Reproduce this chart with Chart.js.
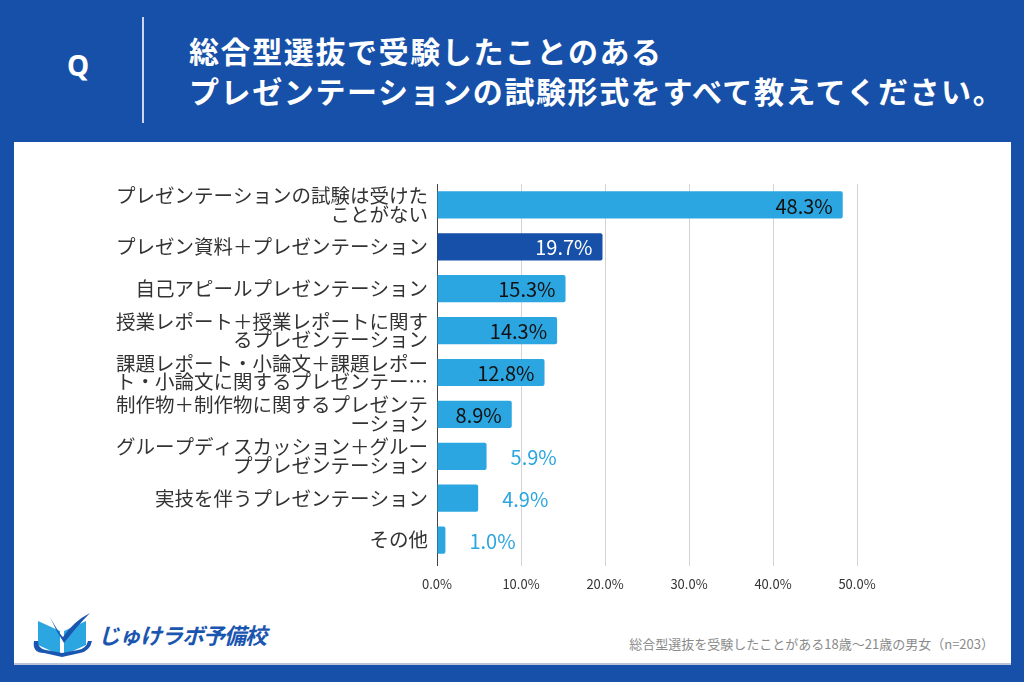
<!DOCTYPE html>
<html lang="ja">
<head>
<meta charset="utf-8">
<script src="https://cdn.jsdelivr.net/npm/chart.js@4.4.1/dist/chart.umd.min.js"></script>
<style>
  html, body { margin: 0; padding: 0; }
  body {
    width: 1024px; height: 682px; position: relative; overflow: hidden;
    background: #1650a8;
    font-family: "Noto Sans CJK JP", "Noto Sans", sans-serif;
  }
  .q { position: absolute; left: 62px; top: 46px; width: 32px; text-align: center;
       color: #fff; font: bold 28px "Noto Sans", "Noto Sans CJK JP", sans-serif; }
  .sep { position: absolute; left: 142px; top: 17px; width: 2px; height: 106px; background: #c9d6ee; }
  .title { position: absolute; left: 189px; top: 30px; color: #fff; font-weight: bold;
           font-size: 30px; line-height: 40px; letter-spacing: 1.6px; white-space: nowrap; }
  .panel { position: absolute; left: 14px; top: 142px; width: 997px; height: 521px;
           background: #fff; border-bottom: 2px solid #b9c4d8; }
  .logo { position: absolute; left: 30px; top: 610px; height: 48px; display: flex; align-items: center; }
  .logo span { color: #1a56b0; font-weight: bold; font-style: italic; font-size: 22px; margin-left: 2px; letter-spacing: -1px; }
  .note { position: absolute; right: 30px; top: 634px; color: #8a8a8a; font-size: 13px; white-space: nowrap; }
  canvas { position: absolute; left: 0; top: 0; }
</style>
</head>
<body>
<div class="q">Q</div>
<div class="sep"></div>
<div class="title">総合型選抜で受験したことのある<br>プレゼンテーションの試験形式をすべて教えてください。</div>
<div class="panel"></div>
<div class="logo">
  <svg width="66" height="46" viewBox="0 0 66 46">
    <path d="M8 10 L30 20 L30 44 L8 34 Z" fill="#2ca6e0"/>
    <path d="M34 20 L56 10 L56 34 L34 44 Z" fill="#2ca6e0"/>
    <path d="M4 30 Q2 42 14 42 L32 46 L50 42 Q60 40 62 30 L58 30 Q56 38 48 39 L32 42 L16 39 Q8 38 8 30 Z" fill="#1a56b0"/>
    <path d="M20 6 Q30 24 33 26 Q44 10 60 2 Q48 14 34 32 Q26 20 20 6 Z" fill="#1a56b0"/>
  </svg>
  <span>じゅけラボ予備校</span>
</div>
<div class="note">総合型選抜を受験したことがある18歳～21歳の男女（n=203）</div>
<canvas id="chart" width="1024" height="682"></canvas>
<script>
const categories = [
  ["プレゼンテーションの試験は受けた", "ことがない"],
  "プレゼン資料＋プレゼンテーション",
  "自己アピールプレゼンテーション",
  ["授業レポート＋授業レポートに関す", "るプレゼンテーション"],
  ["課題レポート・小論文＋課題レポー", "ト・小論文に関するプレゼンテー…"],
  ["制作物＋制作物に関するプレゼンテ", "ーション"],
  ["グループディスカッション＋グルー", "ププレゼンテーション"],
  "実技を伴うプレゼンテーション",
  "その他"
];
const values = [48.3, 19.7, 15.3, 14.3, 12.8, 8.9, 5.9, 4.9, 1.0];
const xTicks = [0, 10, 20, 30, 40, 50];

const highlightIndex = 1;
const lightBlue = "#2ca6e0";
const darkBlue = "#1650a8";
const jpFont = '"Noto Sans CJK JP", "Noto Sans", sans-serif';

// value labels: inside the bar end for long bars, outside for short ones
const valueLabels = {
  id: "valueLabels",
  afterDatasetsDraw(chart) {
    const c = chart.ctx;
    const meta = chart.getDatasetMeta(0);
    c.save();
    c.font = "20px " + jpFont;
    c.textBaseline = "middle";
    meta.data.forEach((bar, i) => {
      const v = values[i];
      const text = v.toFixed(1) + "%";
      if (v >= 8) {
        c.textAlign = "right";
        c.fillStyle = i === highlightIndex ? "#ffffff" : "#111111";
        c.fillText(text, bar.x - 10, bar.y + 1);
      } else {
        c.textAlign = "left";
        c.fillStyle = lightBlue;
        c.fillText(text, bar.x + 24, bar.y + 1);
      }
    });
    c.restore();
  }
};

new Chart(document.getElementById("chart"), {
  type: "bar",
  data: {
    labels: categories,
    datasets: [{
      data: values,
      backgroundColor: values.map((v, i) => i === highlightIndex ? darkBlue : lightBlue),
      borderRadius: 2,
      borderSkipped: "start",
      categoryPercentage: 1,
      barPercentage: 0.65
    }]
  },
  options: {
    indexAxis: "y",
    responsive: false,
    animation: false,
    layout: { padding: { top: 184, right: 167, bottom: 0, left: 0 } },
    plugins: { legend: { display: false }, tooltip: { enabled: false } },
    scales: {
      x: {
        min: 0,
        max: 50,
        afterBuildTicks: (s) => { s.ticks = xTicks.map(v => ({ value: v })); },
        afterFit: (s) => { s.height = 121; },
        ticks: {
          color: "#333",
          padding: 10,
          font: { size: 13, family: jpFont },
          callback: (v) => Number(v).toFixed(1) + "%"
        },
        grid: {
          color: (ctx) => ctx.tick && ctx.tick.value === 0 ? "#444" : "#d4d4d4",
          tickLength: 5,
          lineWidth: 1
        },
        border: { display: false }
      },
      y: {
        afterFit: (s) => { s.width = 437; },
        ticks: {
          color: "#333",
          padding: 9,
          font: { size: 19.5, family: jpFont, lineHeight: 0.96 }
        },
        grid: { display: false, drawTicks: false },
        border: { display: true, color: "#444", width: 1 }
      }
    }
  },
  plugins: [valueLabels]
});
</script>
</body>
</html>
